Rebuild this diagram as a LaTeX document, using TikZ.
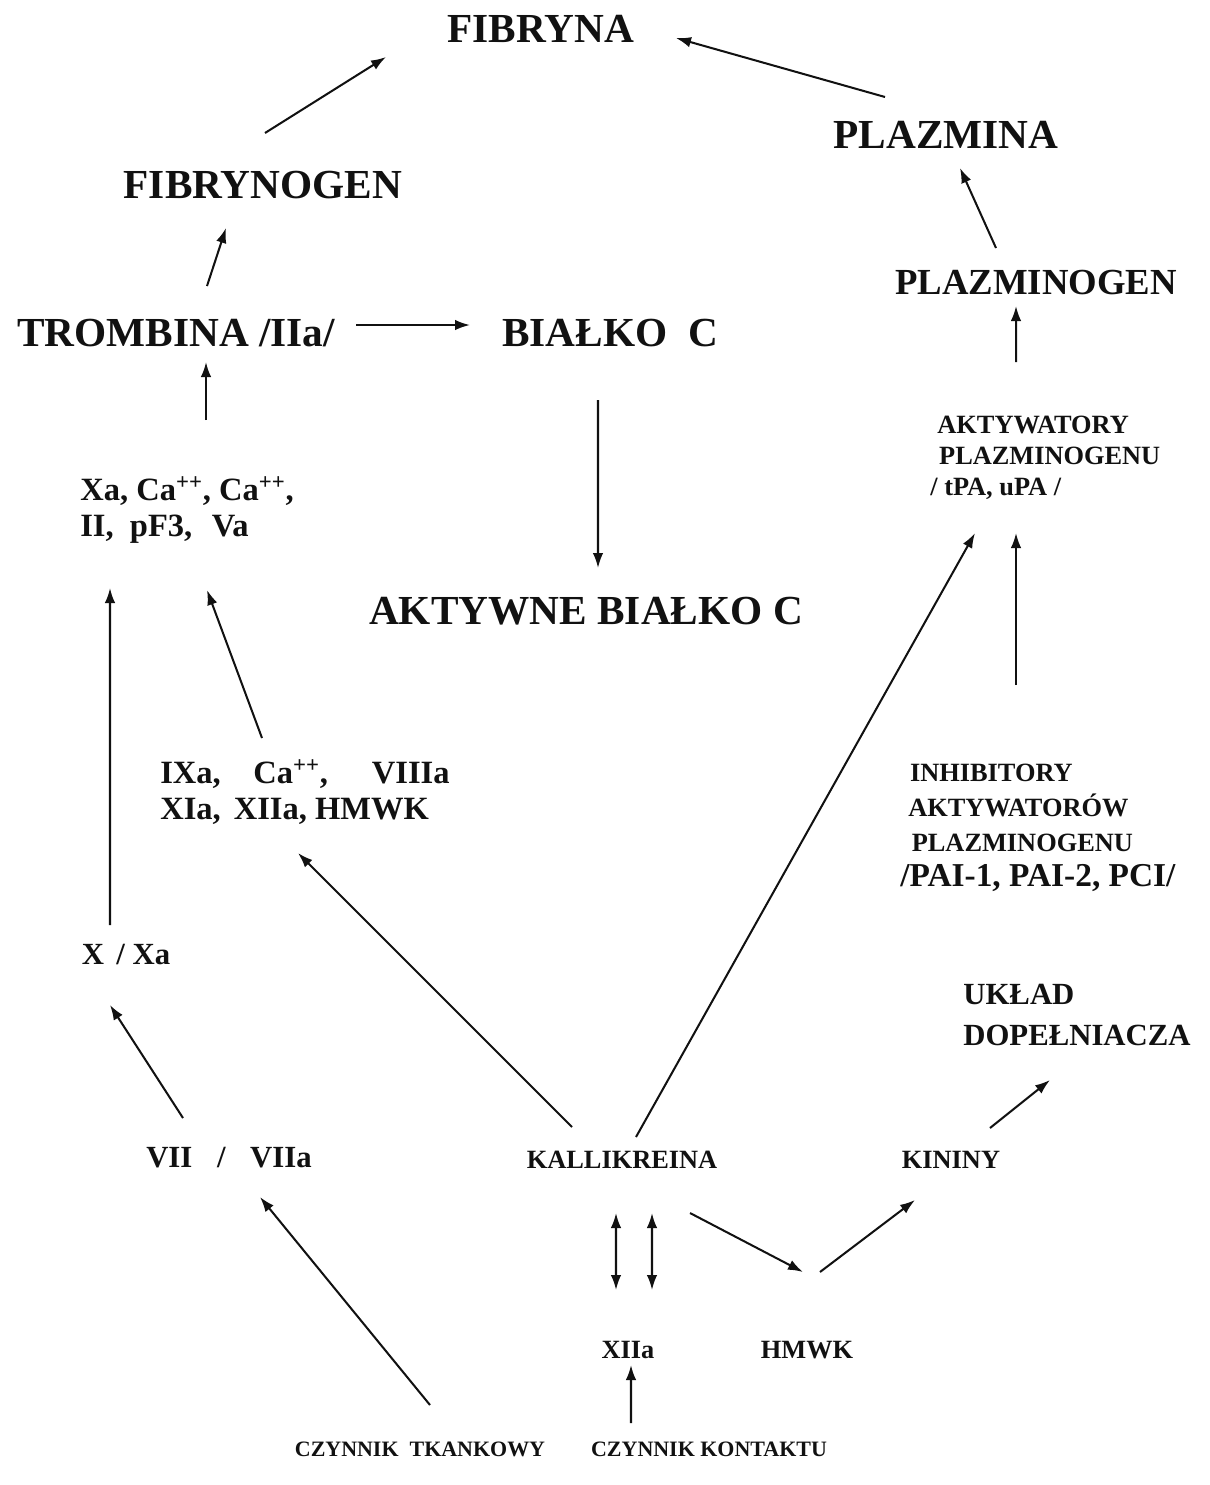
\documentclass[tikz,border=0pt]{standalone}
\usepackage{fontspec}
\setmainfont{Liberation Serif}
\usetikzlibrary{arrows.meta,calc}
\definecolor{ink}{HTML}{111111}
\tikzset{
  % ---- labels ----------------------------------------------------
  lbl/.style        = {inner sep=0pt, text=ink},
  bigname/.style    = {lbl, font=\bfseries\fontsize{23.5}{28}\selectfont},
  midname/.style    = {lbl, font=\bfseries\fontsize{20.9}{25}\selectfont},
  cofac/.style      = {lbl, align=left, anchor=west,
                       font=\bfseries\fontsize{18.5}{20}\selectfont},
  factor/.style     = {lbl, font=\bfseries\fontsize{17.5}{21}\selectfont},
  smallname/.style  = {lbl, font=\bfseries\fontsize{15}{17.6}\selectfont},
  srcname/.style    = {lbl, font=\bfseries\fontsize{12.5}{15}\selectfont},
  % ---- arrows ----------------------------------------------------
  arr/.style        = {draw=ink, line width=1.15pt,
                       -{Latex[length=3mm,width=2.1mm]}},
  darr/.style       = {draw=ink, line width=1.15pt,
                       {Latex[length=3mm,width=2.1mm]}-{Latex[length=3mm,width=2.1mm]}},
}
\begin{document}
\begin{tikzpicture}
  \useasboundingbox (0,0) rectangle (24.18,-29.70);
  % top: coagulation and fibrinolysis products
  \node[bigname] (fibryna) at (10.82,-0.58) {FIBRYNA};
  \node[bigname] (plazmina) at (18.92,-2.70) {PLAZMINA};
  \node[bigname] (fibrynogen) at (5.26,-3.70) {FIBRYNOGEN};
  \node[midname] (plazminogen) at (20.72,-5.66) {PLAZMINOGEN};
  \node[bigname] (trombina) at (3.52,-6.66) {TROMBINA /IIa/};
  \node[bigname] (bialkoc) at (12.20,-6.66) {BIAŁKO\ \ C};
  \node[smallname, align=left, anchor=west] (aktywatory) at (18.60,-9.16)
    {\hspace*{4pt}AKTYWATORY\\\hspace*{5pt}PLAZMINOGENU\\/ tPA, uPA /};
  \node[cofac] (kompleksX) at (1.60,-10.20)
    {Xa, Ca\textsuperscript{++}, Ca\textsuperscript{++},\\II,\hspace{0.5em}pF3,\hspace{0.6em}Va};
  \node[bigname] (aktywne) at (11.72,-12.22) {AKTYWNE BIAŁKO C};
  \node[cofac] (kompleksIX) at (3.20,-15.84)
    {IXa,\hspace{1em}Ca\textsuperscript{++},\hspace{1.35em}VIIIa\\XIa,\hspace{0.4em}XIIa, HMWK};
  \node[smallname, align=left, anchor=west, font=\bfseries\fontsize{15}{20}\selectfont]
    (inhibitory) at (18.00,-16.56)
    {\hspace*{5.5pt}INHIBITORY\\\hspace*{4.5pt}AKTYWATORÓW\\\hspace*{6.5pt}PLAZMINOGENU\\{\fontsize{19}{20}\selectfont /PAI-1, PAI-2, PCI/}};
  % bottom: factors and sources
  \node[factor] (xxa) at (2.52,-19.10) {X\hspace{0.4em}/ Xa};
  \node[factor, align=left, anchor=west, font=\bfseries\fontsize{17.5}{22.8}\selectfont]
    (uklad) at (19.26,-20.30) {UKŁAD\\DOPEŁNIACZA};
  \node[factor] (vii) at (4.58,-23.16) {VII\hspace{0.8em}/\hspace{0.8em}VIIa};
  \node[smallname] (kallikreina) at (12.44,-23.20) {KALLIKREINA};
  \node[smallname] (kininy) at (19.02,-23.20) {KININY};
  \node[smallname] (xiia) at (12.56,-27.00) {XIIa};
  \node[smallname] (hmwk) at (16.14,-27.00) {HMWK};
  \node[srcname] (tkankowy) at (8.40,-28.98) {CZYNNIK\ \ TKANKOWY};
  \node[srcname] (kontakt) at (14.18,-28.98) {CZYNNIK KONTAKTU};
  % arrows
  \draw[arr] ($(plazmina)+(-1.22,0.76)$) -- ($(fibryna)+(2.70,-0.18)$);
  \draw[arr] ($(fibrynogen)+(0.04,1.04)$) -- ($(fibryna)+(-3.10,-0.56)$);
  \draw[arr] ($(plazminogen)+(-0.80,0.70)$) -- ($(plazmina)+(0.28,-0.66)$);
  \draw[arr] ($(trombina)+(0.62,0.94)$) -- ($(fibrynogen)+(-0.74,-0.86)$);
  \draw[arr] ($(trombina)+(3.60,0.16)$) -- ($(bialkoc)+(-2.80,0.16)$);
  \draw[arr] ($(aktywatory.west)+(1.72,1.92)$) -- ($(plazminogen)+(-0.40,-0.46)$);
  \draw[arr] ($(kompleksX.west)+(2.52,1.80)$) -- ($(trombina)+(0.60,-0.58)$);
  \draw[arr] ($(bialkoc)+(-0.24,-1.34)$) -- ($(aktywne)+(0.24,0.86)$);
  \draw[arr] ($(xxa)+(-0.32,0.60)$) -- ($(kompleksX.west)+(0.60,-1.56)$);
  \draw[arr] ($(kompleksIX.west)+(2.04,1.08)$) -- ($(kompleksX.west)+(2.54,-1.60)$);
  \draw[arr] ($(kallikreina)+(-1.00,0.66)$) -- ($(kompleksIX.west)+(2.76,-1.22)$);
  \draw[arr] ($(kallikreina)+(0.28,0.46)$) -- ($(aktywatory.west)+(0.90,-1.50)$);
  \draw[arr] ($(inhibitory.west)+(2.32,2.86)$) -- ($(aktywatory.west)+(1.72,-1.50)$);
  \draw[arr] ($(kininy)+(0.78,0.64)$) -- ($(uklad.west)+(1.74,-1.30)$);
  \draw[arr] ($(vii)+(-0.92,0.80)$) -- ($(xxa)+(-0.32,-1.00)$);
  \draw[arr] ($(tkankowy)+(0.20,0.88)$) -- ($(vii)+(0.62,-0.78)$);
  \draw[arr] ($(kallikreina)+(1.36,-1.06)$) -- ($(hmwk)+(-0.08,1.56)$);
  \draw[arr] ($(hmwk)+(0.26,1.56)$) -- ($(kininy)+(-0.72,-0.80)$);
  \draw[darr] ($(kallikreina)+(-0.12,-1.06)$) -- ($(xiia)+(-0.24,1.20)$);
  \draw[darr] ($(kallikreina)+(0.60,-1.06)$) -- ($(xiia)+(0.48,1.20)$);
  \draw[arr] ($(kontakt)+(-1.56,0.52)$) -- ($(xiia)+(0.06,-0.30)$);
\end{tikzpicture}
\end{document}
